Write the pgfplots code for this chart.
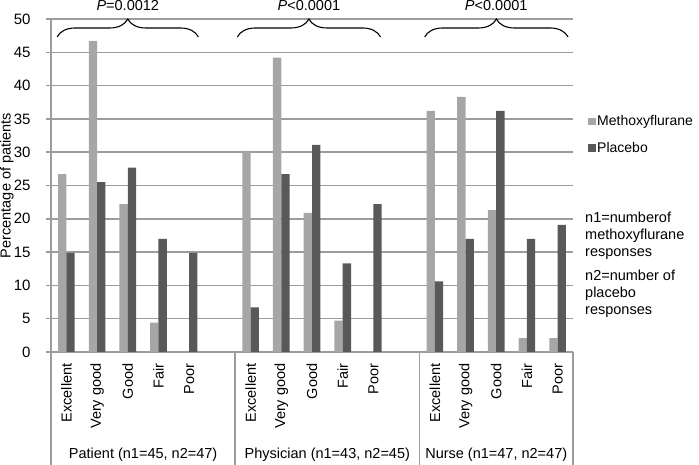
\documentclass[border=0pt]{standalone}
\usepackage{fontspec}
\setmainfont{Liberation Sans}
\usepackage{pgfplots}
\pgfplotsset{compat=1.18}
\usetikzlibrary{decorations.pathreplacing}
\definecolor{meth}{HTML}{A6A6A6}
\definecolor{plac}{HTML}{595959}
\definecolor{gridgray}{HTML}{9C9C9C}

\begin{document}
\begin{tikzpicture}[font=\fontsize{14.5}{17}\selectfont]
\begin{axis}[
  scale only axis, width=522pt, height=333pt,
  xmin=-0.5, xmax=16.5, ymin=0, ymax=50,
  ybar=0pt, bar width=8.3pt,
  axis x line*=bottom, axis y line*=left,
  axis line style={-, draw=gridgray, line width=1.5pt},
  ymajorgrids, grid style={draw=gridgray, line width=1.5pt},
  ytick={0,5,...,50},
  xtick={0,1,2,3,4,6,7,8,9,10,12,13,14,15,16},
  xticklabels={Excellent,Very good,Good,Fair,Poor,Excellent,Very good,Good,Fair,Poor,Excellent,Very good,Good,Fair,Poor},
  x tick label style={rotate=90, anchor=east, font=\fontsize{14.5}{17}\selectfont},
  y tick label style={font=\fontsize{15}{17}\selectfont},
  xticklabel shift=3pt, yticklabel shift=12pt,
  /pgf/number format/assume math mode=true,
  xtick style={draw=none},
  ytick style={draw=gridgray, line width=1.5pt},
  tick align=outside, major tick length=5pt,
  clip=false,
  legend style={at={(rel axis cs:1,0.715)}, anchor=north west, xshift=15pt,
    draw=none, fill=none, inner sep=0pt, row sep=12pt,
    font=\fontsize{14}{16}\selectfont, nodes={inner sep=1.5pt}},
  legend cell align=left,
  legend image code/.code={\fill[#1] (0pt,-3.8pt) rectangle (7.5pt,3.7pt);},
]
% Methoxyflurane
\addplot[fill=meth, draw=none] coordinates {
  (0,26.7) (1,46.7) (2,22.2) (3,4.4) (4,0)
  (6,30.2) (7,44.2) (8,20.9) (9,4.7) (10,0)
  (12,36.2) (13,38.3) (14,21.3) (15,2.1) (16,2.1)};
\addlegendentry{Methoxyflurane}
% Placebo
\addplot[fill=plac, draw=none] coordinates {
  (0,14.9) (1,25.5) (2,27.7) (3,17.0) (4,14.9)
  (6,6.7) (7,26.7) (8,31.1) (9,13.3) (10,22.2)
  (12,10.6) (13,17.0) (14,36.2) (15,17.0) (16,19.1)};
\addlegendentry{Placebo}

% braces with p values
\draw[decorate, decoration={brace, amplitude=18pt}, line width=1.1pt] (axis cs:-0.30,47.3) -- (axis cs:4.30,47.3);
\draw[decorate, decoration={brace, amplitude=18pt}, line width=1.1pt] (axis cs:5.57,47.3) -- (axis cs:10.23,47.3);
\draw[decorate, decoration={brace, amplitude=18pt}, line width=1.1pt] (axis cs:11.67,47.3) -- (axis cs:16.34,47.3);
\node at ([yshift=13pt]axis cs:2,50) {\textit{P}=0.0012};
\node at ([yshift=13pt]axis cs:7.9,50) {\textit{P}<0.0001};
\node at ([yshift=13pt]axis cs:14,50) {\textit{P}<0.0001};

% group separators and labels
\pgfplotsinvokeforeach{-0.5,5.5,11.5,16.5}{
  \draw[gridgray, line width=1.5pt] (axis cs:#1,0) -- ([yshift=-113pt]axis cs:#1,0);
}
\node at ([yshift=-103pt]axis cs:2.5,0) {Patient (n1=45, n2=47)};
\node at ([yshift=-103pt]axis cs:8.5,0) {Physician (n1=43, n2=45)};
\node at ([yshift=-103pt]axis cs:14,0) {Nurse (n1=47, n2=47)};

\node[rotate=90] at ([xshift=-44pt]rel axis cs:0,0.5) {Percentage of patients};

% notes
\node[anchor=base west, inner sep=0pt] at ([xshift=12pt,yshift=129pt]rel axis cs:1,0) {n1=numberof};
\node[anchor=base west, inner sep=0pt] at ([xshift=12pt,yshift=112pt]rel axis cs:1,0) {methoxyflurane};
\node[anchor=base west, inner sep=0pt] at ([xshift=12pt,yshift=95pt]rel axis cs:1,0) {responses};
\node[anchor=base west, inner sep=0pt] at ([xshift=12pt,yshift=71pt]rel axis cs:1,0) {n2=number of};
\node[anchor=base west, inner sep=0pt] at ([xshift=12pt,yshift=54pt]rel axis cs:1,0) {placebo};
\node[anchor=base west, inner sep=0pt] at ([xshift=12pt,yshift=37pt]rel axis cs:1,0) {responses};

\coordinate (ll) at (rel axis cs:0,0);
\coordinate (ur) at (rel axis cs:1,1);
\end{axis}
\pgfresetboundingbox
\path ([xshift=-51pt,yshift=-113pt]ll) rectangle ([xshift=126pt,yshift=19pt]ur);
\end{tikzpicture}
\end{document}
